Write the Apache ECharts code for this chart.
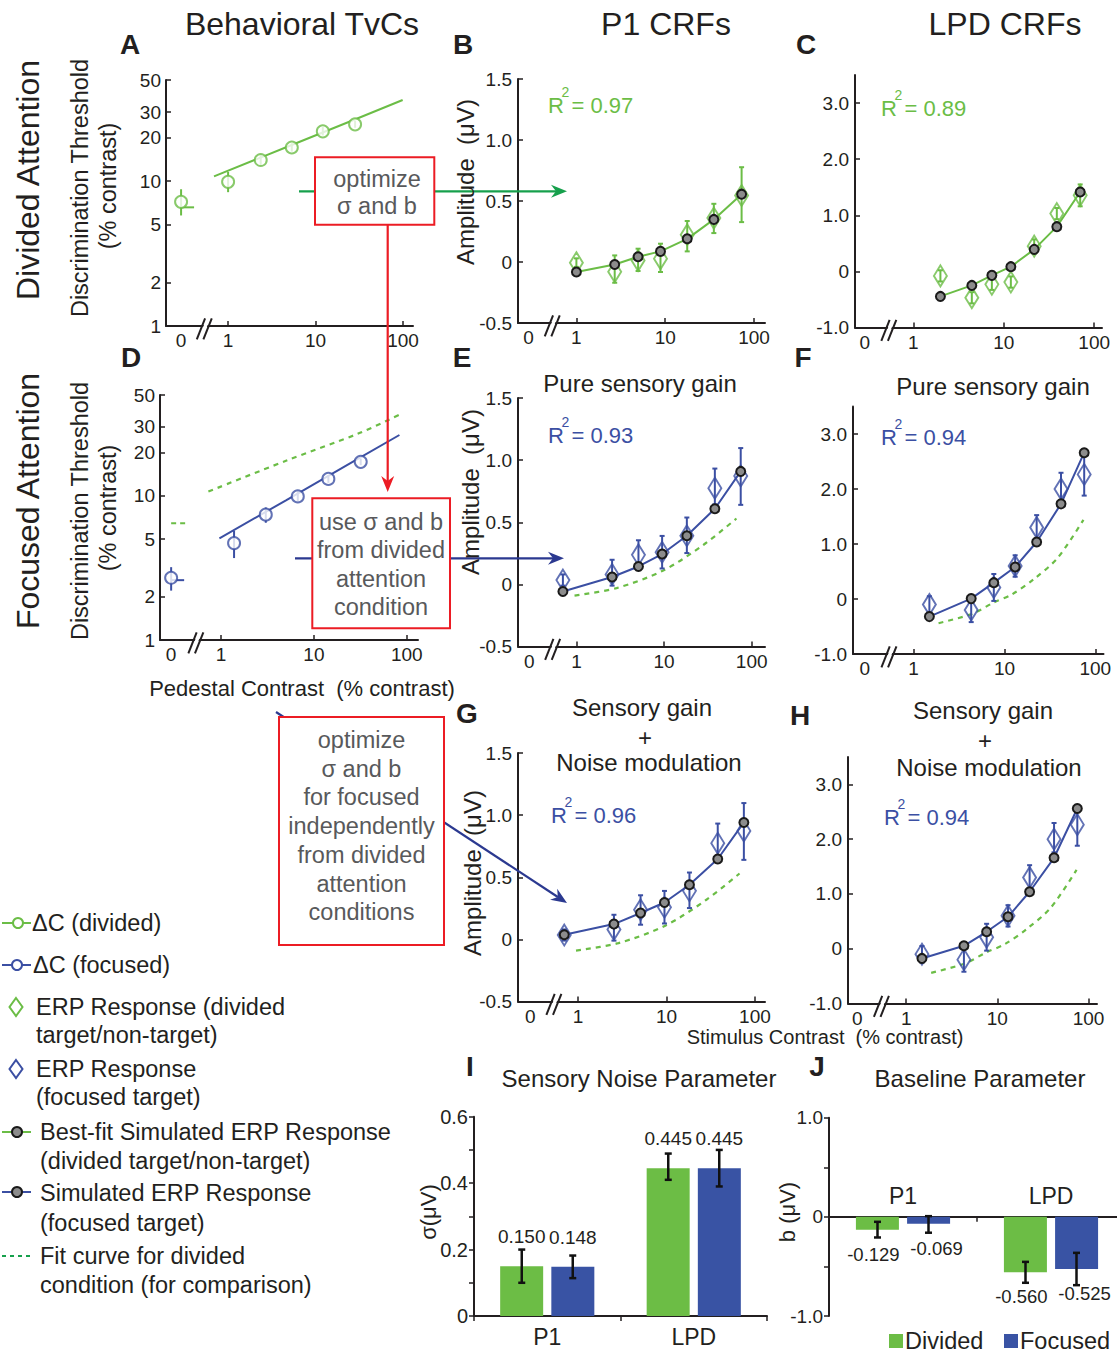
<!DOCTYPE html>
<html>
<head>
<meta charset="utf-8">
<script src="https://cdn.jsdelivr.net/npm/echarts@6.0.0/dist/echarts.min.js"></script>
<style>
html,body{margin:0;padding:0;background:#ffffff;}
#chart{width:1117px;height:1354px;}
</style>
</head>
<body>
<div id="chart"></div>
<script>
// ================= DATA =================
const ZERO_POS = 0.29;   // where the 0 % contrast column sits on each broken log axis
const BREAK_POS = 0.55;  // where the "//" axis break is drawn
const CONTRAST_TICKS = [1, 10, 100];
const TVC_TICKS = [1, 2, 5, 10, 20, 30, 50];
const P1_TICKS = [-0.5, 0, 0.5, 1.0, 1.5];
const LPD_TICKS = [-1, 0, 1, 2, 3];

// A: behavioural TvC, divided attention
const tvcDivPed = [0, 1.0, 2.36, 5.35, 12.1, 28.3];
const tvcDivThr = [7.2, 9.9, 14.0, 17.1, 22.1, 24.7];
const tvcDivLo  = [5.8, 8.4, 12.9, 16.0, 20.7, 23.4];
const tvcDivHi  = [8.8, 11.6, 15.3, 18.3, 23.7, 26.1];
const tvcDivFitPed = [0.69, 5, 30, 99];
const tvcDivFitThr = [10.8, 17.5, 27.1, 36.4];
const tvcDivFitZero = [6.6];

// D: behavioural TvC, focused attention
const tvcFocPed = [0, 1.38, 3.03, 6.7, 14.3, 31.9];
const tvcFocThr = [2.7, 4.7, 7.4, 9.9, 13.1, 17.2];
const tvcFocLo  = [2.2, 3.7, 6.5, 9.1, 12.3, 16.3];
const tvcFocHi  = [3.2, 5.7, 8.3, 10.8, 13.9, 18.1];
const tvcFocFitPed = [0.96, 5, 30, 83.3];
const tvcFocFitThr = [5.07, 9.3, 18.1, 26.4];
const tvcFocFitZero = [2.6];
const tvcDivCmpPed = [0.73, 5, 30, 82];
const tvcDivCmpThr = [10.7, 17.5, 27.0, 36.3];
const tvcDivCmpZero = [6.45];

// B: P1, divided
const p1DivC   = [1.0, 2.7, 4.95, 8.85, 17.7, 35.3, 72.5];
const p1DivSim = [-0.082, -0.02, 0.043, 0.087, 0.19, 0.349, 0.556];
const p1DivErp = [-0.006, -0.08, 0.013, 0.027, 0.223, 0.36, 0.545];
const p1DivLo  = [-0.04, -0.17, -0.074, -0.082, 0.087, 0.237, 0.327];
const p1DivHi  = [0.03, 0.054, 0.109, 0.15, 0.336, 0.477, 0.777];

// C: LPD, divided
const lpdDivC   = [1.99, 4.43, 7.38, 11.97, 21.7, 38.6, 70];
const lpdDivSim = [-0.446, -0.25, -0.071, 0.084, 0.392, 0.797, 1.414];
const lpdDivErp = [-0.08, -0.47, -0.23, -0.19, 0.45, 1.03, 1.355];
const lpdDivLo  = [-0.18, -0.57, -0.33, -0.29, 0.33, 0.93, 1.16];
const lpdDivHi  = [0.02, -0.37, -0.13, -0.09, 0.57, 1.13, 1.55];

// P1, focused target (E and G)
const p1FocC   = [0.7, 2.55, 5.1, 9.5, 18.2, 38, 75];
const p1FocErp = [0.035, 0.08, 0.238, 0.258, 0.391, 0.774, 0.873];
const p1FocLo  = [-0.01, -0.01, 0.118, 0.128, 0.252, 0.644, 0.64];
const p1FocHi  = [0.08, 0.198, 0.355, 0.39, 0.538, 0.932, 1.097];
const p1FocSimGain  = [-0.057, 0.059, 0.144, 0.244, 0.391, 0.609, 0.909];
const p1FocSimNoise = [0.037, 0.123, 0.212, 0.297, 0.44, 0.647, 0.941];
const p1DivFitC   = [0.95, 2.87, 9.8, 28.3, 67];
const p1DivFitAmp = [-0.09, -0.03, 0.112, 0.319, 0.53];

// LPD, focused target (F and H)
const lpdFocC   = [1.49, 4.3, 7.63, 13.1, 22.6, 41.9, 75.4];
const lpdFocErp = [-0.1, -0.2, 0.21, 0.6, 1.3, 2.0, 2.265];
const lpdFocLo  = [-0.25, -0.42, -0.035, 0.405, 1.08, 1.76, 1.88];
const lpdFocHi  = [0.05, 0.02, 0.455, 0.795, 1.525, 2.295, 2.6];
const lpdFocSimGain  = [-0.32, 0.007, 0.297, 0.582, 1.036, 1.73, 2.66];
const lpdFocSimNoise = [-0.177, 0.053, 0.309, 0.583, 1.04, 1.66, 2.56];
const lpdDivFitC   = [1.88, 4.4, 7.6, 12, 21, 38.6, 74];
const lpdDivFitAmp = [-0.44, -0.27, -0.065, 0.08, 0.36, 0.75, 1.44];

// I, J: parameters
const barCats = ['P1', 'LPD'];
const barGroups = ['Divided', 'Focused'];
const sigmaDiv = [0.150, 0.445];
const sigmaFoc = [0.148, 0.445];
const sigmaDivLo = [0.10, 0.41],  sigmaDivHi = [0.20, 0.489];
const sigmaFocLo = [0.114, 0.39], sigmaFocHi = [0.182, 0.50];
const baseDiv = [-0.129, -0.560];
const baseFoc = [-0.069, -0.525];
const baseDivLo = [-0.208, -0.665], baseDivHi = [-0.05, -0.454];
const baseFocLo = [-0.16, -0.689],  baseFocHi = [0.007, -0.363];

// ================= STYLE =================
const GREEN = '#6bbd46', BLUE = '#3b4fa3';
const BAR_GREEN = '#6cbd45', BAR_BLUE = '#3953a4';
const INK = '#231f20', GRAYTXT = '#58595b', RED = '#ec1c24';
const ARROW_GREEN = '#16a04c', ARROW_BLUE = '#2b3990', SIM_FILL = '#8c8c8c';
const FONT = '"Liberation Sans", Arial, Helvetica, sans-serif';

// ================= HELPERS =================
const pts = (xs, ys) => xs.map((x, i) => [x === 0 ? ZERO_POS : x, ys[i]]);
const errs = (xs, lo, hi) => xs.map((x, i) => [x === 0 ? ZERO_POS : x, lo[i], hi[i]]);

function errRender(color, cap, off, lw) {
  return function (params, api) {
    const a = api.coord([api.value(0), api.value(1)]);
    const b = api.coord([api.value(0), api.value(2)]);
    const x = a[0] + (off || 0);
    const st = { stroke: color, lineWidth: lw || 2 };
    const ch = [{ type: 'line', shape: { x1: x, y1: a[1], x2: x, y2: b[1] }, style: st }];
    if (cap) {
      ch.push({ type: 'line', shape: { x1: x - cap, y1: a[1], x2: x + cap, y2: a[1] }, style: st });
      ch.push({ type: 'line', shape: { x1: x - cap, y1: b[1], x2: x + cap, y2: b[1] }, style: st });
    }
    return { type: 'group', children: ch };
  };
}
function hTickRender(color, len, dash) {
  return function (params, api) {
    const a = api.coord([api.value(0), api.value(1)]);
    return { type: 'line', shape: { x1: a[0], y1: a[1], x2: a[0] + len, y2: a[1] },
      style: { stroke: color, lineWidth: 2, lineDash: dash || null } };
  };
}

const axisLineStyle = { color: INK, width: 2 };
function logX(i, min, max) {
  return {
    type: 'log', gridIndex: i, min, max, logBase: 10,
    axisLine: { show: true, onZero: false, lineStyle: axisLineStyle },
    axisTick: { show: true, inside: true, length: 5, customValues: CONTRAST_TICKS, lineStyle: { color: INK, width: 1.5 } },
    axisLabel: { customValues: [ZERO_POS].concat(CONTRAST_TICKS), color: INK, fontSize: 19, fontFamily: FONT, margin: 5,
      formatter: v => (v < 0.5 ? '0' : String(Math.round(v))) },
    splitLine: { show: false }, minorTick: { show: false }
  };
}
function tvcY(i) {
  return {
    type: 'log', gridIndex: i, min: 1, max: 50, logBase: 10,
    axisLine: { show: true, onZero: false, lineStyle: axisLineStyle },
    axisTick: { show: true, inside: true, length: 5, customValues: TVC_TICKS, lineStyle: { color: INK, width: 1.5 } },
    axisLabel: { customValues: TVC_TICKS, color: INK, fontSize: 19, fontFamily: FONT, margin: 5,
      formatter: v => String(Math.round(v)) },
    splitLine: { show: false }, minorTick: { show: false }
  };
}
function ampY(i, min, max, ticks) {
  return {
    type: 'value', gridIndex: i, min, max,
    axisLine: { show: true, onZero: false, lineStyle: axisLineStyle },
    axisTick: { show: true, inside: true, length: 5, customValues: ticks, lineStyle: { color: INK, width: 1.5 } },
    axisLabel: { customValues: ticks, color: INK, fontSize: 19, fontFamily: FONT, margin: 6,
      formatter: v => (v === 0 ? '0' : v.toFixed(1)) },
    splitLine: { show: false }
  };
}

function crfSeries(i, color, c, erp, lo, hi, sim, dashC, dashY) {
  const s = [];
  if (dashC) s.push({ type: 'line', xAxisIndex: i, yAxisIndex: i, data: pts(dashC, dashY), symbol: 'none', smooth: 0.3,
    lineStyle: { color: GREEN, width: 2.2, type: [5, 5] }, z: 2, silent: true });
  s.push({ type: 'custom', xAxisIndex: i, yAxisIndex: i, data: errs(c, lo, hi), encode: { x: 0, y: [1, 2] },
    renderItem: errRender(color, 2.5, 0, 2), z: 3, silent: true });
  s.push({ type: 'scatter', xAxisIndex: i, yAxisIndex: i, data: pts(c, erp), symbol: 'diamond', symbolSize: [13, 21],
    itemStyle: { color: 'rgba(255,255,255,0)', borderColor: color, borderWidth: 2 }, z: 4, silent: true });
  s.push({ type: 'line', xAxisIndex: i, yAxisIndex: i, data: pts(c, sim), symbol: 'circle', symbolSize: 9, showAllSymbol: true,
    lineStyle: { color: color, width: 2 }, itemStyle: { color: SIM_FILL, borderColor: '#1a1a1a', borderWidth: 2 }, z: 5, silent: true });
  return s;
}

function tvcSeries(i, color, ped, thr, lo, hi, fitP, fitT, fitZero) {
  return [
    { type: 'line', xAxisIndex: i, yAxisIndex: i, data: pts(fitP, fitT), symbol: 'none', lineStyle: { color, width: 2 }, z: 2, silent: true },
    { type: 'custom', xAxisIndex: i, yAxisIndex: i, data: pts([0], fitZero), renderItem: hTickRender(color, 13), z: 2, silent: true },
    { type: 'custom', xAxisIndex: i, yAxisIndex: i, data: errs(ped, lo, hi), encode: { x: 0, y: [1, 2] }, renderItem: errRender(color, 0, 0, 2), z: 3, silent: true },
    { type: 'scatter', xAxisIndex: i, yAxisIndex: i, data: pts(ped, thr), symbol: 'circle', symbolSize: 12,
      itemStyle: { color: '#ffffff', borderColor: color, borderWidth: 2 }, z: 5, silent: true }
  ];
}

// ================= LAYOUT =================
const grids = [
  { left: 166, top: 80, width: 247, height: 246 },     // 0 A
  { left: 160, top: 395, width: 258, height: 245 },    // 1 D
  { left: 518, top: 79, width: 247, height: 244 },     // 2 B
  { left: 855, top: 75, width: 247, height: 252.5 },   // 3 C
  { left: 518, top: 398, width: 247, height: 248.5 },  // 4 E
  { left: 853, top: 406.5, width: 250.5, height: 247.5 }, // 5 F
  { left: 518, top: 753, width: 247, height: 248.5 },  // 6 G
  { left: 848, top: 757, width: 249, height: 246.5 },  // 7 H
  { left: 474, top: 1116.7, width: 293, height: 199.3 }, // 8 I
  { left: 829, top: 1117.7, width: 296, height: 198.3 }  // 9 J
].map(g => Object.assign({ outerBoundsMode: 'none', containLabel: false }, g));

const xAxes = [
  logX(0, 0.195, 130), logX(1, 0.22, 132), logX(2, 0.22, 133), logX(3, 0.226, 122),
  logX(4, 0.215, 142), logX(5, 0.215, 123), logX(6, 0.21, 130), logX(7, 0.23, 124),
  { type: 'category', gridIndex: 8, data: barCats,
    axisLine: { lineStyle: axisLineStyle }, axisTick: { show: true, length: 5, lineStyle: { color: INK, width: 1.5 } },
    axisLabel: { color: INK, fontSize: 23, fontFamily: FONT, margin: 9 } },
  { type: 'category', gridIndex: 9, data: barCats,
    axisLine: { onZero: true, lineStyle: axisLineStyle },
    axisTick: { show: true, length: 5, lineStyle: { color: INK, width: 1.5 } },
    axisLabel: { show: false } }
];
const yAxes = [
  tvcY(0), tvcY(1),
  ampY(2, -0.5, 1.5, P1_TICKS), ampY(3, -1, 3.5, LPD_TICKS),
  ampY(4, -0.5, 1.5, P1_TICKS), ampY(5, -1, 3.5, LPD_TICKS),
  ampY(6, -0.5, 1.5, P1_TICKS), ampY(7, -1, 3.5, LPD_TICKS),
  { type: 'value', gridIndex: 8, min: 0, max: 0.6, interval: 0.1,
    axisLine: { show: true, lineStyle: axisLineStyle }, axisTick: { show: true, length: 5, lineStyle: { color: INK, width: 1.5 } },
    axisLabel: { color: INK, fontSize: 20, fontFamily: FONT, margin: 6,
      formatter: v => { const k = Math.round(v * 10); return k % 2 ? '' : (k === 0 ? '0' : (k / 10).toFixed(1)); } },
    splitLine: { show: false } },
  { type: 'value', gridIndex: 9, min: -1, max: 1, interval: 0.5,
    axisLine: { show: true, onZero: false, lineStyle: axisLineStyle }, axisTick: { show: true, length: 5, lineStyle: { color: INK, width: 1.5 } },
    axisLabel: { color: INK, fontSize: 19, fontFamily: FONT, margin: 6,
      formatter: v => (v === 0 ? '0' : (Math.abs(v) === 1 ? v.toFixed(1) : '')) },
    splitLine: { show: false } }
];

let series = [];
series = series.concat(tvcSeries(0, GREEN, tvcDivPed, tvcDivThr, tvcDivLo, tvcDivHi, tvcDivFitPed, tvcDivFitThr, tvcDivFitZero));
series.push({ type: 'line', xAxisIndex: 1, yAxisIndex: 1, data: pts(tvcDivCmpPed, tvcDivCmpThr), symbol: 'none', smooth: 0.3,
  lineStyle: { color: GREEN, width: 2.2, type: [5, 5] }, z: 2, silent: true });
series.push({ type: 'custom', xAxisIndex: 1, yAxisIndex: 1, data: pts([0], tvcDivCmpZero), renderItem: hTickRender(GREEN, 14, [5, 4]), z: 2, silent: true });
series = series.concat(tvcSeries(1, BLUE, tvcFocPed, tvcFocThr, tvcFocLo, tvcFocHi, tvcFocFitPed, tvcFocFitThr, tvcFocFitZero));
series = series.concat(crfSeries(2, GREEN, p1DivC, p1DivErp, p1DivLo, p1DivHi, p1DivSim));
series = series.concat(crfSeries(3, GREEN, lpdDivC, lpdDivErp, lpdDivLo, lpdDivHi, lpdDivSim));
series = series.concat(crfSeries(4, BLUE, p1FocC, p1FocErp, p1FocLo, p1FocHi, p1FocSimGain, p1DivFitC, p1DivFitAmp));
series = series.concat(crfSeries(5, BLUE, lpdFocC, lpdFocErp, lpdFocLo, lpdFocHi, lpdFocSimGain, lpdDivFitC, lpdDivFitAmp));
series = series.concat(crfSeries(6, BLUE, p1FocC, p1FocErp, p1FocLo, p1FocHi, p1FocSimNoise, p1DivFitC, p1DivFitAmp));
series = series.concat(crfSeries(7, BLUE, lpdFocC, lpdFocErp, lpdFocLo, lpdFocHi, lpdFocSimNoise, lpdDivFitC, lpdDivFitAmp));

const BAR_W = 43, BAR_OFF = 25.5;
function barSeries(i, name, data, color, pos, dist, dx, fs) {
  return { type: 'bar', name, xAxisIndex: i, yAxisIndex: i, data, barWidth: BAR_W, barGap: '19%',
    itemStyle: { color }, z: 3, silent: true,
    label: { show: true, position: pos, distance: dist, offset: [dx || 0, 0], color: INK, fontSize: fs || 19, fontFamily: FONT,
      formatter: p => p.value.toFixed(3) } };
}
function barErr(i, lo, hi, off) {
  return { type: 'custom', xAxisIndex: i, yAxisIndex: i, data: lo.map((v, k) => [k, v, hi[k]]), encode: { x: 0, y: [1, 2] },
    renderItem: errRender('#111111', 3.5, off, 2.5), z: 6, silent: true };
}
series.push(barSeries(8, barGroups[0], sigmaDiv, BAR_GREEN, 'top', 20));
series.push(barSeries(8, barGroups[1], sigmaFoc, BAR_BLUE, 'top', 20));
series.push(barErr(8, sigmaDivLo, sigmaDivHi, -BAR_OFF));
series.push(barErr(8, sigmaFocLo, sigmaFocHi, BAR_OFF));
series.push(barSeries(9, barGroups[0], baseDiv, BAR_GREEN, 'bottom', 15, -4, 18.5));
series.push(barSeries(9, barGroups[1], baseFoc, BAR_BLUE, 'bottom', 15, 8, 18.5));
series.push(barErr(9, baseDivLo, baseDivHi, -BAR_OFF));
series.push(barErr(9, baseFocLo, baseFocHi, BAR_OFF));

// ================= ANNOTATIONS =================
function T(text, x, y, o) {
  o = o || {};
  return { type: 'text', x, y, rotation: o.rot || 0, z: o.z || 70, silent: true,
    style: { text, fill: o.color || INK, fontSize: o.size || 23, fontFamily: FONT, fontWeight: o.bold ? 'bold' : 'normal',
      align: o.align || 'center', verticalAlign: 'middle' } };
}
function R2(x, y, val, color) {
  return [T('R', x, y, { size: 22, color, align: 'left' }), T('2', x + 13.5, y - 13, { size: 14, color, align: 'left' }),
    T('= ' + val, x + 23.5, y, { size: 22, color, align: 'left' })];
}
function arrow(x1, y1, x2, y2, color) {
  const dx = x2 - x1, dy = y2 - y1, L = Math.hypot(dx, dy), ux = dx / L, uy = dy / L, nx = -uy, ny = ux;
  const hl = 16, hw = 6.5, notch = 11;
  const bx = x2 - ux * hl, by = y2 - uy * hl;
  return [
    { type: 'line', z: 50, silent: true, shape: { x1, y1, x2: x2 - ux * notch, y2: y2 - uy * notch }, style: { stroke: color, lineWidth: 2.2 } },
    { type: 'polygon', z: 50, silent: true, shape: { points: [[x2, y2], [bx + nx * hw, by + ny * hw], [x2 - ux * notch, y2 - uy * notch], [bx - nx * hw, by - ny * hw]] }, style: { fill: color } }
  ];
}
function box(x, y, w, h, lines, cx, y0, step) {
  const els = [{ type: 'rect', z: 60, silent: true, shape: { x, y, width: w, height: h }, style: { fill: '#ffffff', stroke: RED, lineWidth: 2 } }];
  lines.forEach((t, k) => els.push(T(t, cx, y0 + k * step, { size: 23.5, color: GRAYTXT, z: 61 })));
  return els;
}
function legendLine(y, color, dash) {
  return { type: 'line', z: 70, silent: true, shape: { x1: 2, y1: y, x2: 31, y2: y }, style: { stroke: color, lineWidth: 2, lineDash: dash || null } };
}
function legendCircle(cx, cy, fill, stroke) {
  return { type: 'circle', z: 71, silent: true, shape: { cx, cy, r: 5 }, style: { fill, stroke, lineWidth: 2 } };
}
function legendDiamond(cx, cy, color) {
  return { type: 'polygon', z: 71, silent: true, shape: { points: [[cx, cy - 9], [cx + 6.5, cy], [cx, cy + 9], [cx - 6.5, cy]] },
    style: { fill: 'none', stroke: color, lineWidth: 2 } };
}

let graphics = [];
// headers
graphics.push(T('Behavioral TvCs', 302, 24, { size: 32 }), T('P1 CRFs', 666, 24, { size: 32 }), T('LPD CRFs', 1005, 24, { size: 32 }));
graphics.push(T('Divided Attention', 28, 180, { size: 32, rot: Math.PI / 2 }), T('Focused Attention', 28, 501, { size: 32, rot: Math.PI / 2 }));
// panel letters
[['A', 130, 44], ['B', 463, 44], ['C', 806, 44], ['D', 131, 357], ['E', 462, 357], ['F', 803, 357],
 ['G', 467, 713], ['H', 800, 715], ['I', 470, 1066], ['J', 817, 1066]].forEach(p => graphics.push(T(p[0], p[1], p[2], { size: 28, bold: true })));
// axis names
graphics.push(T('Discrimination Threshold', 80, 188, { size: 23.5, rot: Math.PI / 2 }), T('(% contrast)', 108, 186, { size: 23.5, rot: Math.PI / 2 }));
graphics.push(T('Discrimination Threshold', 80, 511, { size: 23.5, rot: Math.PI / 2 }), T('(% contrast)', 108, 508, { size: 23.5, rot: Math.PI / 2 }));
graphics.push(T('Pedestal Contrast  (% contrast)', 302, 688, { size: 22 }));
graphics.push(T('Amplitude  (μV)', 465, 182, { size: 24, rot: Math.PI / 2 }), T('Amplitude  (μV)', 470, 492, { size: 24, rot: Math.PI / 2 }),
  T('Amplitude  (μV)', 472, 873, { size: 24, rot: Math.PI / 2 }));
graphics.push(T('Stimulus Contrast  (% contrast)', 825, 1037, { size: 20 }));
graphics.push(T('σ(μV)', 428, 1212, { size: 22, rot: Math.PI / 2 }), T('b (μV)', 787, 1212, { size: 22, rot: Math.PI / 2 }));
// subtitles
graphics.push(T('Pure sensory gain', 640, 383, { size: 24 }), T('Pure sensory gain', 993, 386, { size: 24 }));
graphics.push(T('Sensory gain', 642, 707, { size: 24 }), T('+', 645, 737, { size: 24 }), T('Noise modulation', 649, 762, { size: 24 }));
graphics.push(T('Sensory gain', 983, 710, { size: 24 }), T('+', 985, 740, { size: 24 }), T('Noise modulation', 989, 767, { size: 24 }));
graphics.push(T('Sensory Noise Parameter', 639, 1078, { size: 24 }), T('Baseline Parameter', 980, 1078, { size: 24 }));
// R^2
graphics = graphics.concat(R2(548, 105, '0.97', GREEN), R2(881, 108, '0.89', GREEN), R2(548, 435, '0.93', BLUE),
  R2(881, 437, '0.94', BLUE), R2(551, 815, '0.96', BLUE), R2(884, 817, '0.94', BLUE));
// arrows and boxes
graphics = graphics.concat(arrow(299, 191.3, 567, 191.3, ARROW_GREEN), arrow(387.7, 225, 387.7, 492, RED),
  arrow(295, 558.3, 564, 558.3, ARROW_BLUE), arrow(276, 712, 567, 903, ARROW_BLUE));
graphics = graphics.concat(box(315, 157.3, 119.3, 67.4, ['optimize', 'σ and b'], 377, 178.5, 27));
graphics = graphics.concat(box(312.3, 498.3, 137.7, 130, ['use σ and b', 'from divided', 'attention', 'condition'], 381, 522, 28.4));
graphics = graphics.concat(box(279, 717, 165, 228, ['optimize', 'σ and b', 'for focused', 'independently', 'from divided', 'attention', 'conditions'], 361.5, 740, 28.7));
// left legend
graphics.push(legendLine(923, GREEN), legendCircle(18, 923, '#ffffff', GREEN), T('ΔC (divided)', 32, 923, { align: 'left', size: 23.5 }));
graphics.push(legendLine(965, BLUE), legendCircle(17, 965, '#ffffff', BLUE), T('ΔC (focused)', 33, 965, { align: 'left', size: 23.5 }));
graphics.push(legendDiamond(16, 1007, GREEN), T('ERP Response (divided', 36, 1007, { align: 'left', size: 23.5 }), T('target/non-target)', 36, 1035, { align: 'left', size: 23.5 }));
graphics.push(legendDiamond(16, 1069, BLUE), T('ERP Response', 36, 1069, { align: 'left', size: 23.5 }), T('(focused target)', 36, 1097, { align: 'left', size: 23.5 }));
graphics.push(legendLine(1132, GREEN), legendCircle(17, 1132, SIM_FILL, '#1a1a1a'), T('Best-fit Simulated ERP Response', 40, 1132, { align: 'left', size: 23.5 }),
  T('(divided target/non-target)', 40, 1161, { align: 'left', size: 23.5 }));
graphics.push(legendLine(1192, BLUE), legendCircle(17, 1192, SIM_FILL, '#1a1a1a'), T('Simulated ERP Response', 40, 1193, { align: 'left', size: 23.5 }),
  T('(focused target)', 40, 1223, { align: 'left', size: 23.5 }));
graphics.push(legendLine(1256, ARROW_GREEN, [4, 4]), T('Fit curve for divided', 40, 1256, { align: 'left', size: 23.5 }),
  T('condition (for comparison)', 40, 1285, { align: 'left', size: 23.5 }));
// bar legend (Divided / Focused)
graphics.push({ type: 'rect', z: 70, silent: true, shape: { x: 889, y: 1334, width: 14, height: 14 }, style: { fill: BAR_GREEN } },
  T(barGroups[0], 905, 1341, { align: 'left', size: 23.5 }),
  { type: 'rect', z: 70, silent: true, shape: { x: 1004, y: 1334, width: 14, height: 14 }, style: { fill: BAR_BLUE } },
  T(barGroups[1], 1020, 1341, { align: 'left', size: 23.5 }));

// ================= RENDER =================
const chart = echarts.init(document.getElementById('chart'), null, { renderer: 'svg', width: 1117, height: 1354 });
chart.setOption({
  animation: false,
  backgroundColor: '#ffffff',
  textStyle: { fontFamily: FONT },
  grid: grids,
  xAxis: xAxes,
  yAxis: yAxes,
  series
});

// axis-break marks, placed through each grid's own scales
const yMinByGrid = [1, 1, -0.5, -1, -0.5, -1, -0.5, -1];
yMinByGrid.forEach((ymin, i) => {
  const p = chart.convertToPixel({ gridIndex: i }, [BREAK_POS, ymin]);
  if (!p) return;
  const x = p[0], y = p[1];
  graphics.push(
    { type: 'polygon', z: 80, silent: true, shape: { points: [[x - 7, y + 13], [x + 1.3, y - 8], [x + 5, y - 8], [x - 3.3, y + 13]] }, style: { fill: '#ffffff' } },
    { type: 'line', z: 81, silent: true, shape: { x1: x - 8.6, y1: y + 13.3, x2: x - 0.3, y2: y - 7.7 }, style: { stroke: INK, lineWidth: 2 } },
    { type: 'line', z: 81, silent: true, shape: { x1: x - 2, y1: y + 13.3, x2: x + 6.4, y2: y - 7.7 }, style: { stroke: INK, lineWidth: 2 } }
  );
});
// J category names sit just above its zero line
barCats.forEach((name, k) => {
  const p = chart.convertToPixel({ gridIndex: 9 }, [k, 0]);
  if (p) graphics.push(T(name, p[0], p[1] - 21, { size: 23 }));
});
chart.setOption({ graphic: graphics });
</script>
</body>
</html>
